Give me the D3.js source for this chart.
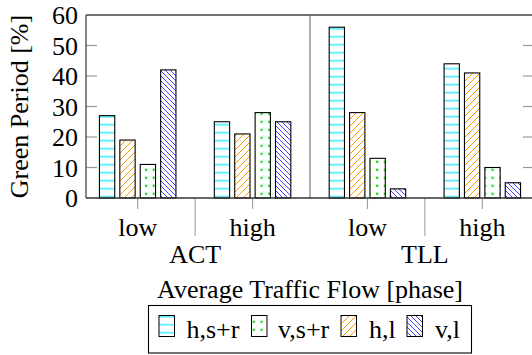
<!DOCTYPE html>
<html><head><meta charset="utf-8">
<script src="https://cdn.jsdelivr.net/npm/d3@7"></script>
<style>
html,body{margin:0;padding:0;background:#fff;}
svg{display:block;}
text{font-family:"Liberation Serif","Times New Roman",serif;fill:#000;}
</style></head>
<body>
<svg id="c" width="532" height="355"></svg>
<script>
const groups = ["ACT", "TLL"];
const flows = ["low", "high"];
const categories = ["ACT low", "ACT high", "TLL low", "TLL high"];
const seriesNames = ["h,s+r", "h,l", "v,s+r", "v,l"];      // bar order
const legendOrder = ["h,s+r", "v,s+r", "h,l", "v,l"];
const hsr = [27, 25, 56, 44];
const hl  = [19, 21, 28, 41];
const vsr = [11, 28, 13, 10];
const vl  = [42, 25, 3, 5];
const yTicks = [0, 10, 20, 30, 40, 50, 60];
const seriesValues = {"h,s+r": hsr, "h,l": hl, "v,s+r": vsr, "v,l": vl};

const svg = d3.select("#c");
const L = 86, R = 534, T = 15, B = 198;
const fs = 26;

const x = d3.scalePoint().domain(categories).range([L, R]).padding(0.45);
const xs = d3.scaleBand().domain(seriesNames).range([-40.8, 40.8]).paddingInner(0.25).paddingOuter(0.125);
const y = d3.scaleLinear().domain([0, 60]).range([B, T]);

// patterns
const defs = svg.append("defs");
const pH = defs.append("pattern").attr("id","pH").attr("patternUnits","userSpaceOnUse")
  .attr("width",8).attr("height",8).attr("y",0.7);
pH.append("line").attr("x1",0).attr("x2",8).attr("y1",4).attr("y2",4).attr("stroke","#00e6ff").attr("stroke-width",1.2);
const pNE = defs.append("pattern").attr("id","pNE").attr("patternUnits","userSpaceOnUse")
  .attr("width",7).attr("height",7);
pNE.append("path").attr("d","M-1,8 L8,-1 M-1,1 L1,-1 M6,8 L8,6").attr("stroke","#ff9900").attr("stroke-width",1);
const pNW = defs.append("pattern").attr("id","pNW").attr("patternUnits","userSpaceOnUse")
  .attr("width",5).attr("height",5);
pNW.append("path").attr("d","M-1,-1 L6,6 M-1,4 L1,6 M4,-1 L6,1").attr("stroke","#3030ff").attr("stroke-width",0.9);
const pD = defs.append("pattern").attr("id","pD").attr("patternUnits","userSpaceOnUse")
  .attr("width",7.7).attr("height",8).attr("x",145).attr("y",0.7);
pD.append("rect").attr("x",0).attr("y",0).attr("width",2.2).attr("height",2.2).attr("fill","#00dd00");
const fills = {"h,s+r":"url(#pH)", "h,l":"url(#pNE)", "v,s+r":"url(#pD)", "v,l":"url(#pNW)"};

// separators
const gx = [(x(categories[0])+x(categories[1]))/2, (x(categories[2])+x(categories[3]))/2];
const midSep = (x(categories[1])+x(categories[2]))/2;
svg.append("line").attr("x1",midSep).attr("x2",midSep).attr("y1",T).attr("y2",B)
  .attr("stroke","#9a9a9a").attr("stroke-width",1.6);
gx.forEach(v => svg.append("line").attr("x1",v).attr("x2",v).attr("y1",B).attr("y2",236)
  .attr("stroke","#a8a8a8").attr("stroke-width",1.2));
categories.forEach(c => svg.append("line").attr("x1",x(c)).attr("x2",x(c)).attr("y1",B).attr("y2",209)
  .attr("stroke","#a0a0a0").attr("stroke-width",1.2));

// y ticks (inside, mirrored)
yTicks.forEach(t => {
  if (t === 0 || t === 60) return;
  svg.append("line").attr("x1",L).attr("x2",L+11).attr("y1",y(t)).attr("y2",y(t)).attr("stroke","#999").attr("stroke-width",1.2);
  svg.append("line").attr("x1",R-11).attr("x2",R).attr("y1",y(t)).attr("y2",y(t)).attr("stroke","#999").attr("stroke-width",1.2);
});
svg.append("g").selectAll("text").data(yTicks).join("text")
  .attr("x",78).attr("y",d=>y(d)).attr("dy","0.35em").attr("text-anchor","end")
  .attr("font-size",fs).text(d=>d);

// bars
seriesNames.forEach(s => {
  svg.append("g").selectAll("rect").data(categories).join("rect")
    .attr("x",(c)=>x(c)+xs(s))
    .attr("width",xs.bandwidth())
    .attr("y",(c,i)=>y(seriesValues[s][i]))
    .attr("height",(c,i)=>B-y(seriesValues[s][i]))
    .attr("fill",fills[s]).attr("stroke","#000").attr("stroke-width",1.1);
});

// frame
svg.append("line").attr("x1",L).attr("x2",R).attr("y1",T).attr("y2",T).attr("stroke","#444").attr("stroke-width",1.3);
svg.append("line").attr("x1",L).attr("x2",L).attr("y1",T).attr("y2",B).attr("stroke","#444").attr("stroke-width",1.3);
svg.append("line").attr("x1",R).attr("x2",R).attr("y1",T).attr("y2",B).attr("stroke","#444").attr("stroke-width",1.3);
svg.append("line").attr("x1",L).attr("x2",R).attr("y1",B).attr("y2",B).attr("stroke","#333").attr("stroke-width",1.3);

// x labels
svg.append("g").selectAll("text").data(categories).join("text")
  .attr("x",c=>x(c)).attr("y",235.5).attr("text-anchor","middle").attr("font-size",fs)
  .text((c,i)=>flows[i%2]);
svg.append("g").selectAll("text").data(groups).join("text")
  .attr("x",(g,i)=>gx[i]).attr("y",263).attr("text-anchor","middle").attr("font-size",fs).text(g=>g);
svg.append("text").attr("x",(L+R)/2).attr("y",298).attr("text-anchor","middle").attr("font-size",fs)
  .text("Average Traffic Flow [phase]");
svg.append("text").attr("transform",`translate(27.5,${(T+B)/2}) rotate(-90)`)
  .attr("text-anchor","middle").attr("font-size",fs).text("Green Period [%]");

// legend
svg.append("rect").attr("x",148.5).attr("y",305.5).attr("width",323).attr("height",47.5)
  .attr("fill","#fff").attr("stroke","#000").attr("stroke-width",1.1);
const iconX = [159, 251.5, 341, 407];
const txtX = [186.5, 278, 369, 435];
legendOrder.forEach((s,i) => {
  svg.append("rect").attr("x",iconX[i]).attr("y",315.5).attr("width",15.5).attr("height",21)
    .attr("fill",fills[s]).attr("stroke","#000").attr("stroke-width",1);
  svg.append("text").attr("x",txtX[i]).attr("y",338).attr("font-size",fs).text(s);
});
</script>
</body></html>
